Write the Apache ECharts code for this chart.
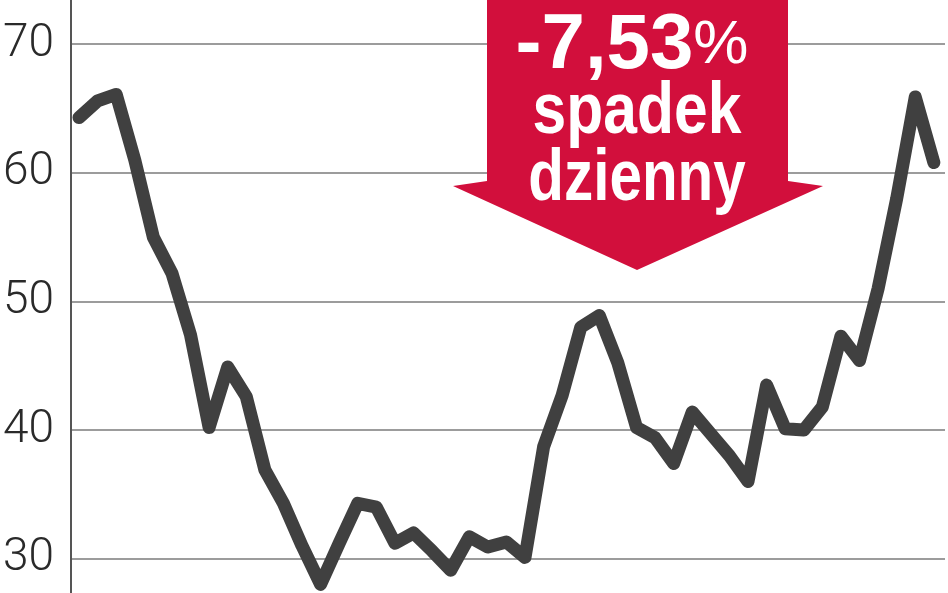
<!DOCTYPE html>
<html>
<head>
<meta charset="utf-8">
<script src="https://cdn.jsdelivr.net/npm/echarts@6/dist/echarts.min.js"></script>
<style>
html,body{margin:0;padding:0;background:#fff;}
#chart{width:948px;height:593px;}
</style>
</head>
<body>
<div id="chart"></div>
<script>
// Session index (0 = first session shown)
const sessions = [0,1,2,3,4,5,6,7,8,9,10,11,12,13,14,15,16,17,18,19,20,21,22,23,24,25,26,27,28,29,30,31,32,33,34,35,36,37,38,39,40,41,42,43,44,45,46];
// Price values
const prices = [64.3,65.6,66.1,61.0,55.0,52.2,47.4,40.2,44.9,42.6,36.9,34.3,31.0,28.0,31.2,34.3,34.0,31.2,32.0,30.6,29.1,31.7,30.9,31.3,30.1,38.7,42.7,48.0,48.9,45.2,40.2,39.4,37.4,41.4,39.7,38.0,36.0,43.5,40.1,40.0,41.8,47.3,45.4,51.0,58.0,65.9,60.8];
// Y tick labels
const yTicks = [30,40,50,60,70];
// Callout text
const calloutValue = '-7,53';
const calloutLine2 = 'spadek';
const calloutLine3 = 'dzienny';

const chart = echarts.init(document.getElementById('chart'), null, {renderer:'canvas'});
const seriesData = sessions.map((s,i)=>[s, prices[i]]);

chart.setOption({
  animation:false,
  backgroundColor:'#ffffff',
  grid:{left:70, right:3, top:0, bottom:0, containLabel:false},
  xAxis:{
    type:'value', min:-0.43, max:46.6,
    show:true,
    axisLine:{show:false}, axisTick:{show:false}, axisLabel:{show:false}, splitLine:{show:false}
  },
  yAxis:{
    type:'value', min:27.33, max:73.44, splitNumber:5, minInterval:10, maxInterval:10,
    axisLine:{show:true, onZero:false, lineStyle:{color:'#555555', width:2}},
    axisTick:{show:false},
    splitLine:{show:true, showMinLine:false, showMaxLine:false, lineStyle:{color:'#9c9c9c', width:2}},
    axisLabel:{
      show:true, margin:17, color:'#2a2a2a', showMinLabel:false, showMaxLabel:false,
      fontFamily:'Roboto', fontWeight:300, fontSize:46,
      formatter:function(v){ return yTicks.indexOf(v) >= 0 ? String(v) : ''; }
    }
  },
  series:[{
    type:'line', data:seriesData, symbol:'none', smooth:false,
    lineStyle:{color:'#404040', width:13, cap:'round', join:'round'},
    z:3
  }],
  graphic:[
    {
      type:'polygon', z:10,
      shape:{points:[[487,0],[788,0],[788,181],[823,186],[637,270],[453,186],[487,181]]},
      style:{fill:'#d20f3c'}
    },
    {
      type:'text', z:11, x:632, y:46, scaleX:1.0,
      style:{
        text:'{a|'+calloutValue+'}{b|%}',
        rich:{
          a:{fontFamily:'Liberation Sans', fontWeight:'bold', fontSize:78, fill:'#ffffff'},
          b:{fontFamily:'Liberation Sans', fontWeight:'normal', fontSize:62, fill:'#ffffff'}
        },
        align:'center', verticalAlign:'middle', fill:'#ffffff'
      }
    },
    {
      type:'text', z:11, x:637, y:113, scaleX:0.83,
      style:{text:calloutLine2, fontFamily:'Liberation Sans', fontWeight:'bold', fontSize:73, fill:'#ffffff', align:'center', verticalAlign:'middle'}
    },
    {
      type:'text', z:11, x:637, y:180, scaleX:0.8,
      style:{text:calloutLine3, fontFamily:'Liberation Sans', fontWeight:'bold', fontSize:73, fill:'#ffffff', align:'center', verticalAlign:'middle'}
    }
  ]
});
</script>
</body>
</html>
